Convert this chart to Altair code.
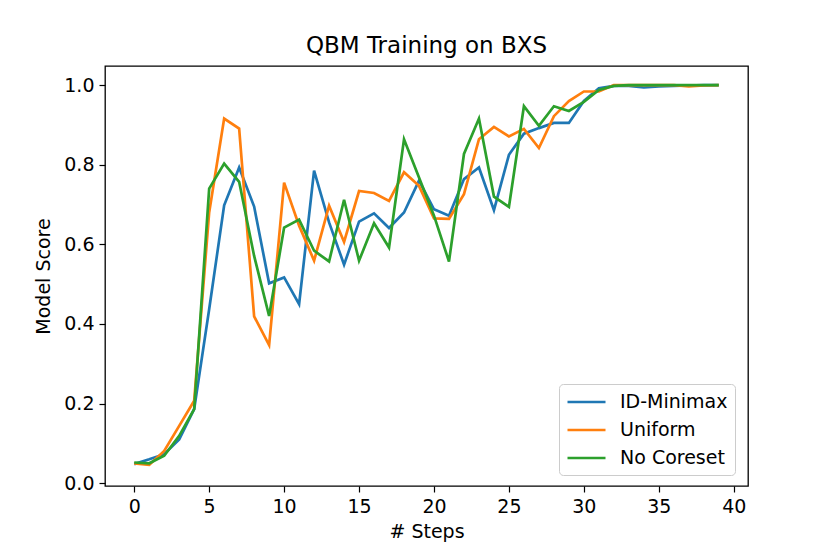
import altair as alt
import pandas as pd

steps = list(range(40))
series_names = ["ID-Minimax", "Uniform", "No Coreset"]
series_colors = ["#1f77b4", "#ff7f0e", "#2ca02c"]

id_minimax = [0.048, 0.060, 0.073, 0.110, 0.186, 0.437, 0.698, 0.793, 0.695, 0.502,
              0.517, 0.450, 0.785, 0.655, 0.549, 0.657, 0.678, 0.641, 0.680, 0.760,
              0.688, 0.672, 0.764, 0.793, 0.686, 0.825, 0.878, 0.892, 0.905, 0.905,
              0.960, 0.992, 0.998, 0.998, 0.994, 0.997, 0.998, 0.999, 1.000, 1.000]
uniform = [0.050, 0.046, 0.081, 0.144, 0.207, 0.680, 0.916, 0.891, 0.419, 0.347,
           0.755, 0.647, 0.559, 0.697, 0.606, 0.734, 0.729, 0.709, 0.781, 0.747,
           0.665, 0.664, 0.726, 0.864, 0.895, 0.871, 0.890, 0.842, 0.922, 0.960,
           0.984, 0.984, 1.000, 1.000, 1.000, 1.000, 1.000, 0.997, 0.999, 1.000]
no_coreset = [0.052, 0.050, 0.069, 0.119, 0.186, 0.740, 0.803, 0.757, 0.571, 0.420,
              0.642, 0.662, 0.584, 0.557, 0.712, 0.559, 0.653, 0.592, 0.864, 0.768,
              0.672, 0.557, 0.827, 0.916, 0.720, 0.694, 0.947, 0.898, 0.947, 0.935,
              0.958, 0.988, 0.998, 1.000, 1.000, 1.000, 1.000, 1.000, 1.000, 1.000]

x_ticks = [0, 5, 10, 15, 20, 25, 30, 35, 40]
y_ticks = [0.0, 0.2, 0.4, 0.6, 0.8, 1.0]

rows = []
for name, vals in zip(series_names, [id_minimax, uniform, no_coreset]):
    for s, v in zip(steps, vals):
        rows.append({"step": s, "score": v, "series": name})
df = pd.DataFrame(rows)

FONT = "DejaVu Sans"
FS = 19

x_enc = alt.X("step:Q",
              scale=alt.Scale(domain=[-1.95, 40.95], nice=False, zero=False),
              axis=alt.Axis(values=x_ticks, title="# Steps", grid=False, domain=False,
                            tickColor="black", tickSize=6, tickWidth=1.2,
                            labelFontSize=FS, labelColor="black", labelFont=FONT,
                            labelPadding=5, titleFontSize=FS, titleFont=FONT,
                            titleFontWeight="normal", titleColor="black", titlePadding=6))
y_enc = alt.Y("score:Q",
              scale=alt.Scale(domain=[-0.007, 1.048], nice=False, zero=False),
              axis=alt.Axis(values=y_ticks, format=".1f", title="Model Score", grid=False,
                            domain=False, tickColor="black", tickSize=6, tickWidth=1.2,
                            labelFontSize=FS, labelColor="black", labelFont=FONT,
                            labelPadding=5, titleFontSize=FS, titleFont=FONT,
                            titleFontWeight="normal", titleColor="black", titlePadding=10))
color_enc = alt.Color("series:N",
                      scale=alt.Scale(domain=series_names, range=series_colors),
                      legend=alt.Legend(title=None, orient="none", legendX=454, legendY=318,
                                        symbolType="M-1,0H3", symbolSize=361,
                                        symbolStrokeWidth=2.7, labelFontSize=FS,
                                        labelFont=FONT, labelColor="black",
                                        labelOffset=32, rowPadding=7, padding=7,
                                        fillColor="white", strokeColor="#cccccc",
                                        cornerRadius=4))

layers = []
for name in series_names:
    layers.append(
        alt.Chart(df).transform_filter(alt.datum.series == name)
        .mark_line(strokeWidth=2.7)
        .encode(x=x_enc, y=y_enc, color=color_enc)
    )

chart = alt.layer(*layers).properties(
    width=643, height=420,
    title=alt.TitleParams("QBM Training on BXS", fontSize=23, font=FONT,
                          fontWeight="normal", color="black", offset=8),
    autosize=alt.AutoSizeParams(type="none"),
    padding={"left": 97, "top": 58, "right": 70, "bottom": 60},
).configure_view(stroke="black", strokeWidth=1.3)

chart.save("out.html", embed_options={"renderer": "svg", "actions": False})
